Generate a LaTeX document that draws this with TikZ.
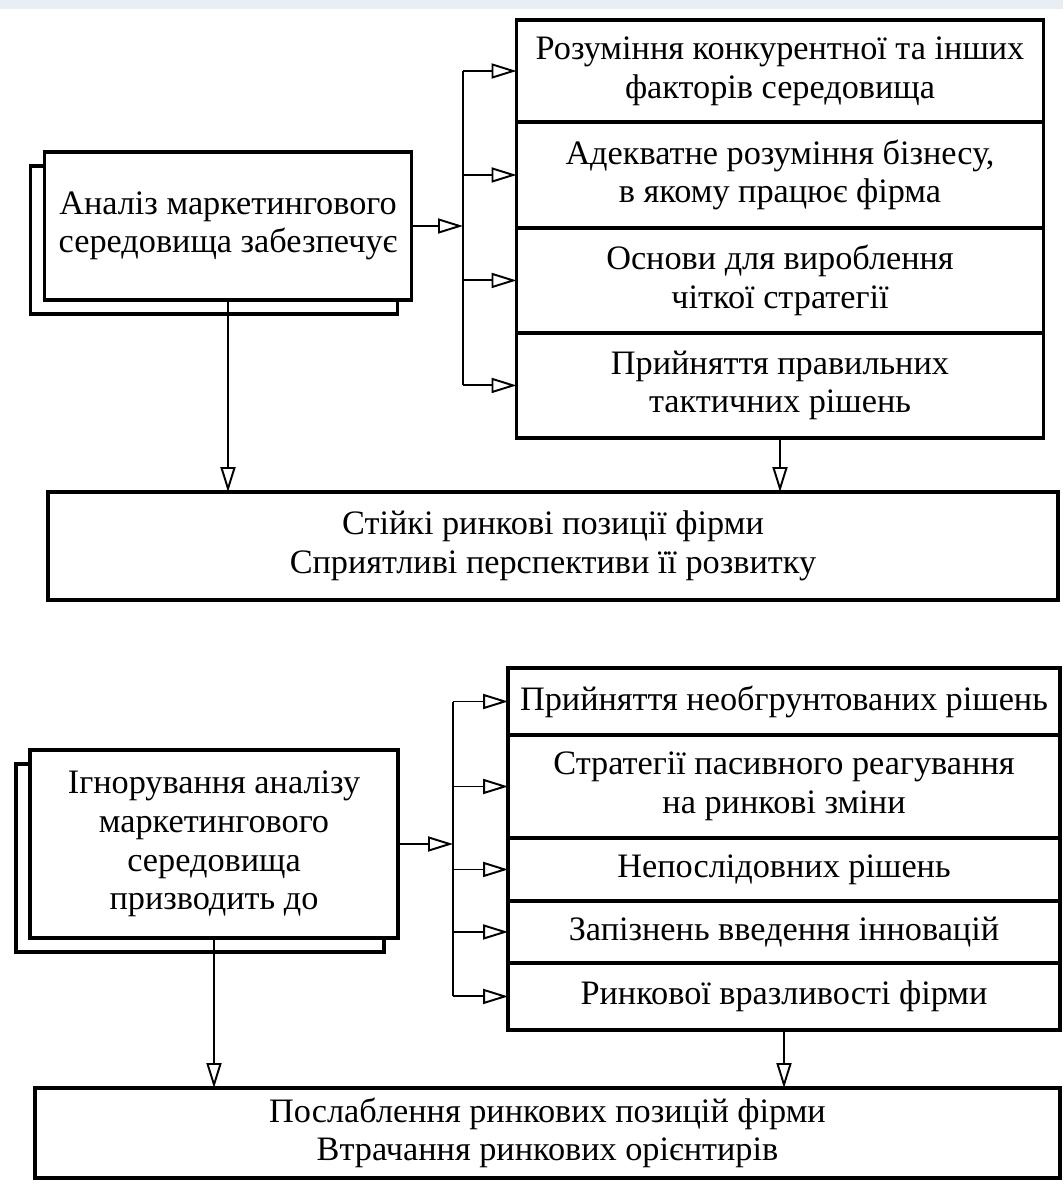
\documentclass[tikz,border=0pt]{standalone}
\usepackage{fontspec}
\setmainfont{Liberation Serif}
\usetikzlibrary{arrows.meta, positioning, shadows}

\definecolor{screenbar}{HTML}{E9EEF5}

\begin{document}
\begin{tikzpicture}[
    x=0.02cm,
    y=-0.02cm,
    font=\fontsize{19.5}{22}\selectfont,
    block/.style={
        rectangle,
        draw,
        fill=white,
        line width=2pt,
        outer sep=0pt,
        inner sep=2pt,
        align=center
    },
    mainblock/.style={
        block,
        copy shadow={shadow xshift=-0.28cm, shadow yshift=-0.28cm, draw, fill=white, line width=2pt}
    },
    link/.style={line width=1.1pt},
    >={Triangle[open, length=5mm, width=3mm]}
]

\useasboundingbox (0,0) rectangle (1063,1189);
\fill[screenbar] (0,0) rectangle (1063,9);

% upper scheme
\node[mainblock, minimum width=7.34cm, minimum height=2.96cm] (analysis) at (228,226) {Аналіз маркетингового\\середовища забезпечує};

\node[block, minimum width=10.54cm, minimum height=2.04cm] (gain1) at (780,71) {Розуміння конкурентної та інших\\факторів середовища};
\node[block, minimum width=10.54cm, minimum height=2.12cm, below=0pt of gain1] (gain2) {Адекватне розуміння бізнесу,\\в якому працює фірма};
\node[block, minimum width=10.54cm, minimum height=2.1cm, below=0pt of gain2] (gain3) {Основи для вироблення\\чіткої стратегії};
\node[block, minimum width=10.54cm, minimum height=2.1cm, below=0pt of gain3] (gain4) {Прийняття правильних\\тактичних рішень};

\node[block, minimum width=20.2cm, minimum height=2.16cm] (strong) at (553,546) {Стійкі ринкові позиції фірми\\Сприятливі перспективи її розвитку};

\coordinate (fork1) at (463,0);
\draw[link, ->] (analysis.east) -- (analysis.east -| fork1);
\draw[link] (gain1.west -| fork1) -- (gain4.west -| fork1);
\foreach \i in {1,...,4}
    \draw[link, ->] (gain\i.west -| fork1) -- (gain\i.west);
\draw[link, ->] (analysis.south) -- (analysis.south |- strong.north);
\draw[link, ->] (gain4.south) -- (gain4.south |- strong.north);

% lower scheme
\node[mainblock, minimum width=7.36cm, minimum height=3.76cm] (ignore) at (214,844) {Ігнорування аналізу\\маркетингового\\середовища\\призводить до};

\node[block, minimum width=11.04cm, minimum height=1.34cm] (loss1) at (784,701.5) {Прийняття необгрунтованих рішень};
\node[block, minimum width=11.04cm, minimum height=2.06cm, below=0pt of loss1] (loss2) {Стратегії пасивного реагування\\на ринкові зміни};
\node[block, minimum width=11.04cm, minimum height=1.26cm, below=0pt of loss2] (loss3) {Непослідовних рішень};
\node[block, minimum width=11.04cm, minimum height=1.24cm, below=0pt of loss3] (loss4) {Запізнень введення інновацій};
\node[block, minimum width=11.04cm, minimum height=1.34cm, below=0pt of loss4] (loss5) {Ринкової вразливості фірми};

\node[block, minimum width=20.5cm, minimum height=1.8cm] (weak) at (547.5,1133) {Послаблення ринкових позицій фірми\\Втрачання ринкових орієнтирів};

\coordinate (fork2) at (453,0);
\draw[link, ->] (ignore.east) -- (ignore.east -| fork2);
\draw[link] (loss1.west -| fork2) -- (loss5.west -| fork2);
\foreach \i in {1,...,5}
    \draw[link, ->] (loss\i.west -| fork2) -- (loss\i.west);
\draw[link, ->] (ignore.south) -- (ignore.south |- weak.north);
\draw[link, ->] (loss5.south) -- (loss5.south |- weak.north);

\end{tikzpicture}
\end{document}
